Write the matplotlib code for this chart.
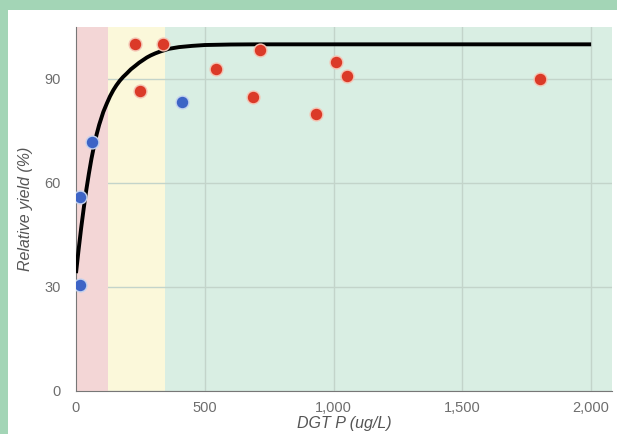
import matplotlib
matplotlib.use("Agg")
import matplotlib.pyplot as plt
from matplotlib.patches import Rectangle

plt.rcParams["font.family"] = ["Liberation Sans", "DejaVu Sans"]

# Data
red_x = [229, 338, 249, 544, 715, 687, 932, 1010, 1052, 1802]
red_y = [100, 100, 86.5, 93, 98.4, 84.8, 80, 95, 91, 90]
blue_x = [412, 62, 16, 16]
blue_y = [83.4, 71.8, 56, 30.5]
curve_x = [0, 10, 20, 30, 40, 50, 60, 70, 80, 90, 106, 120, 132, 145, 157, 170, 183, 197,
           213, 230, 245, 261, 275, 290, 308, 326, 360, 400, 450, 500, 600, 700, 2000]
curve_y = [34, 40.7, 47, 52.7, 58, 62.7, 67, 70.7, 74, 76.8, 80.5, 83, 85, 86.8, 88.2, 89.5,
           90.6, 91.6, 92.8, 93.8, 94.7, 95.5, 96.2, 96.8, 97.4, 97.9, 98.7, 99.2, 99.55, 99.8,
           99.95, 100, 100]
zones = [(0, 124, "#f3d6d6"), (124, 346, "#fbf8da"), (346, 2081, "#d9eee3")]
xticks = [0, 500, 1000, 1500, 2000]
xtick_labels = ["0", "500", "1,000", "1,500", "2,000"]
yticks = [0, 30, 60, 90]

fig = plt.figure(figsize=(6.17, 4.34), dpi=100)
fig.patch.set_facecolor("#a3d5b6")
fig.add_artist(Rectangle((8/617, 0), 1, 1 - 10/434, transform=fig.transFigure,
                         facecolor="white", edgecolor="none", zorder=-10))

ax = fig.add_axes([76/617, (434-391)/434, (612-76)/617, (391-27)/434])
ax.set_zorder(1)
ax.set_facecolor("white")
ax.set_xlim(0, 2081)
ax.set_ylim(0, 105)

for i, (x0, x1, c) in enumerate(zones):
    ax.axvspan(x0, x1, color=c, zorder=0.6 if i == 0 else 0.1, lw=0)

ax.set_xticks(xticks)
ax.set_xticklabels(xtick_labels)
ax.set_yticks(yticks)
ax.set_axisbelow(True)
ax.grid(True, color="#c3d4ca", lw=1)
ax.tick_params(axis="both", length=0, labelsize=10.5, colors="#6e6e6e")
ax.tick_params(axis="y", pad=11)
ax.tick_params(axis="x", pad=7)

for s in ["top", "right"]:
    ax.spines[s].set_visible(False)
ax.spines["left"].set_color("#777777")
ax.spines["bottom"].set_color("#777777")
ax.spines["left"].set_zorder(2)
ax.spines["bottom"].set_zorder(2)

ax.plot(curve_x, curve_y, color="black", lw=2.8, zorder=3, solid_capstyle="butt",
        solid_joinstyle="round")
ax.scatter(red_x, red_y, s=85, color="#db3a28", edgecolor="#f4c4b4", lw=1, zorder=4)
ax.scatter(blue_x, blue_y, s=85, color="#3d64c6", edgecolor="#c4d2ee", lw=1, zorder=4)

ax.set_xlabel("DGT P (ug/L)", fontstyle="italic", fontsize=11.5, color="#555555", labelpad=1)
ax.set_ylabel("Relative yield (%)", fontstyle="italic", fontsize=11.5, color="#555555", labelpad=8)

fig.savefig("out.png", dpi=100, facecolor=fig.get_facecolor())
